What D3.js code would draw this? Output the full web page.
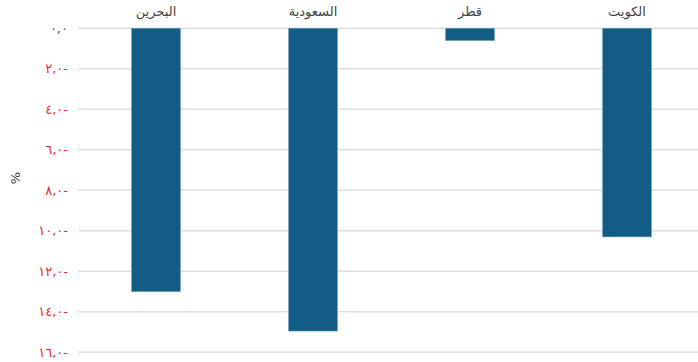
<!DOCTYPE html>
<html lang="ar">
<head>
<meta charset="utf-8">
<script src="https://cdn.jsdelivr.net/npm/d3@7"></script>
<style>
  html, body { margin: 0; padding: 0; background: #fff; }
  svg { display: block; font-family: "DejaVu Sans", "Open Sans", sans-serif; }
</style>
</head>
<body>
<svg id="chart" width="698" height="362"></svg>
<script>
// Countries, left to right, and their values (%)
const categories = ["البحرين", "السعودية", "قطر", "الكويت"];
const values = [-13.0, -14.95, -0.6, -10.3];
const tickValues = [0, -2, -4, -6, -8, -10, -12, -14, -16];
const axisTitle = "%";

const svg = d3.select("#chart");
const W = 698, H = 362;
const margin = { top: 28.3, left: 78, bottom: 352.3 };

const y = d3.scaleLinear().domain([0, -16]).range([margin.top, margin.bottom]);
const x = d3.scaleBand()
  .domain(categories)
  .range([77.5, 705.5])
  .paddingInner(0.69)
  .paddingOuter(0.345);

// Arabic-Indic digits, comma separator, minus written after the number
const arDigits = "٠١٢٣٤٥٦٧٨٩";
function fmt(v) {
  const s = Math.abs(v).toFixed(1).replace(".", ",")
    .replace(/[0-9]/g, d => arDigits[+d]);
  return v < 0 ? s + "-" : s;
}

// Gridlines
svg.append("g")
  .selectAll("line")
  .data(tickValues)
  .join("line")
  .attr("x1", margin.left).attr("x2", W)
  .attr("y1", d => y(d)).attr("y2", d => y(d))
  .attr("stroke", "#dedede")
  .attr("stroke-width", 1.6);

// Y tick labels
svg.append("g")
  .selectAll("text")
  .data(tickValues)
  .join("text")
  .attr("x", 68)
  .attr("y", d => y(d))
  .attr("dy", "0.35em")
  .attr("text-anchor", "end")
  .attr("direction", "ltr")
  .attr("unicode-bidi", "bidi-override")
  .style("font-size", "13px")
  .attr("fill", d => d < 0 ? "#e8262c" : "#555")
  .text(d => fmt(d));

// Axis title
svg.append("text")
  .attr("transform", "translate(15,178) rotate(-90)")
  .attr("text-anchor", "middle")
  .attr("dy", "0.35em")
  .style("font-size", "13px")
  .attr("fill", "#444")
  .text(axisTitle);

// Bars
svg.append("g")
  .selectAll("rect")
  .data(values)
  .join("rect")
  .attr("x", (d, i) => x(categories[i]))
  .attr("width", x.bandwidth())
  .attr("y", d => y(Math.max(0, d)))
  .attr("height", d => Math.abs(y(d) - y(0)))
  .attr("fill", "#135c86")
  .attr("stroke", "#5f94b3")
  .attr("stroke-width", 0.6);

// Category labels at the top
svg.append("g")
  .selectAll("text")
  .data(categories)
  .join("text")
  .attr("x", d => x(d) + x.bandwidth() / 2)
  .attr("y", 16)
  .attr("text-anchor", "middle")
  .style("font-size", "13px")
  .attr("fill", "#444")
  .text(d => d);
</script>
</body>
</html>
